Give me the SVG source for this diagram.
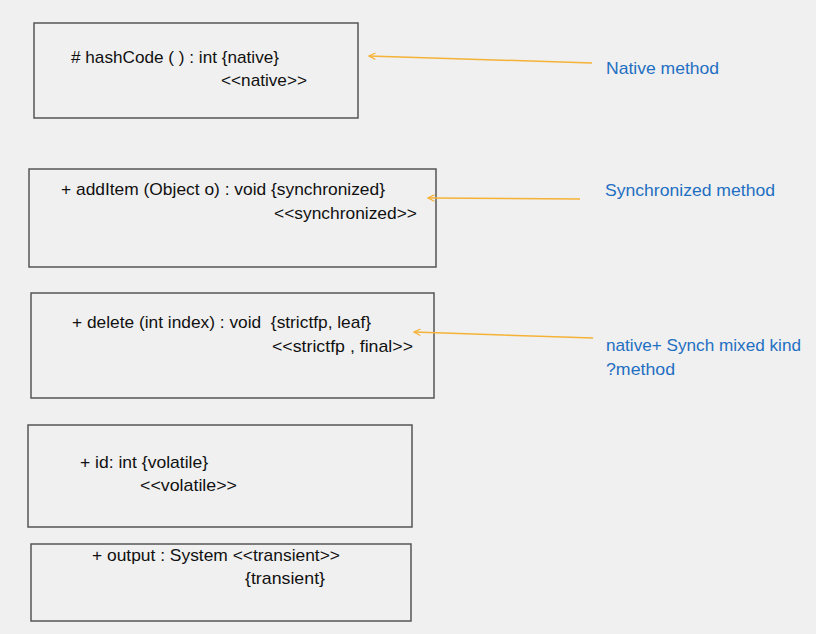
<svg xmlns="http://www.w3.org/2000/svg" width="816" height="634" viewBox="0 0 816 634">
<style>
.box{fill:#f0f0f0;stroke:#555;stroke-width:1.5}
.t{font-family:"Liberation Sans",Arial,sans-serif;font-size:17px;fill:#111}
.l{font-family:"Liberation Sans",Arial,sans-serif;font-size:17px;fill:#1f6fc2}
.c{stroke:#f5b236;stroke-width:1.5;fill:none}
</style>
<defs>
<marker id="ah" viewBox="0 0 10 10" refX="9" refY="5" markerWidth="8" markerHeight="8" orient="auto" markerUnits="userSpaceOnUse">
<polyline points="1,1 9,5 1,9" fill="none" stroke="#f5b236" stroke-width="1.5"/>
</marker>
</defs>
<rect width="816" height="634" fill="#f0f0f0"/>
<g id="node1">
<rect class="box" x="34" y="23" width="324" height="95"/>
<text class="t" x="71" y="63" textLength="208" lengthAdjust="spacingAndGlyphs"># hashCode ( ) : int {native}</text>
<text class="t" x="221" y="86" textLength="86" lengthAdjust="spacingAndGlyphs">&lt;&lt;native&gt;&gt;</text>
</g>
<g id="node2">
<rect class="box" x="29" y="169" width="407" height="98"/>
<text class="t" x="61" y="195" textLength="324" lengthAdjust="spacingAndGlyphs">+ addItem (Object o) : void {synchronized}</text>
<text class="t" x="274" y="219" textLength="143" lengthAdjust="spacingAndGlyphs">&lt;&lt;synchronized&gt;&gt;</text>
</g>
<g id="node3">
<rect class="box" x="31" y="293" width="403" height="105"/>
<text class="t" x="72" y="328" textLength="299" lengthAdjust="spacingAndGlyphs" xml:space="preserve">+ delete (int index) : void  {strictfp, leaf}</text>
<text class="t" x="272" y="352" textLength="141" lengthAdjust="spacingAndGlyphs">&lt;&lt;strictfp , final&gt;&gt;</text>
</g>
<g id="node4">
<rect class="box" x="28" y="425" width="384" height="102"/>
<text class="t" x="80" y="468" textLength="128" lengthAdjust="spacingAndGlyphs">+ id: int {volatile}</text>
<text class="t" x="140" y="491" textLength="97" lengthAdjust="spacingAndGlyphs">&lt;&lt;volatile&gt;&gt;</text>
</g>
<g id="node5">
<rect class="box" x="31" y="544" width="380" height="77"/>
<text class="t" x="92" y="561" textLength="248" lengthAdjust="spacingAndGlyphs">+ output : System &lt;&lt;transient&gt;&gt;</text>
<text class="t" x="245" y="584" textLength="80" lengthAdjust="spacingAndGlyphs">{transient}</text>
</g>
<g id="label1"><text class="l" x="606" y="74" textLength="113" lengthAdjust="spacingAndGlyphs">Native method</text></g>
<g id="label2"><text class="l" x="605" y="196" textLength="170" lengthAdjust="spacingAndGlyphs">Synchronized method</text></g>
<g id="label3">
<text class="l" x="606" y="351" textLength="195" lengthAdjust="spacingAndGlyphs">native+ Synch mixed kind</text>
<text class="l" x="606" y="375" textLength="69" lengthAdjust="spacingAndGlyphs">?method</text>
</g>
<g id="connectors">
<line class="c" x1="592" y1="63" x2="369" y2="56" marker-end="url(#ah)"/>
<line class="c" x1="580" y1="199" x2="428" y2="198" marker-end="url(#ah)"/>
<line class="c" x1="593" y1="338" x2="414" y2="332" marker-end="url(#ah)"/>
</g>
</svg>
